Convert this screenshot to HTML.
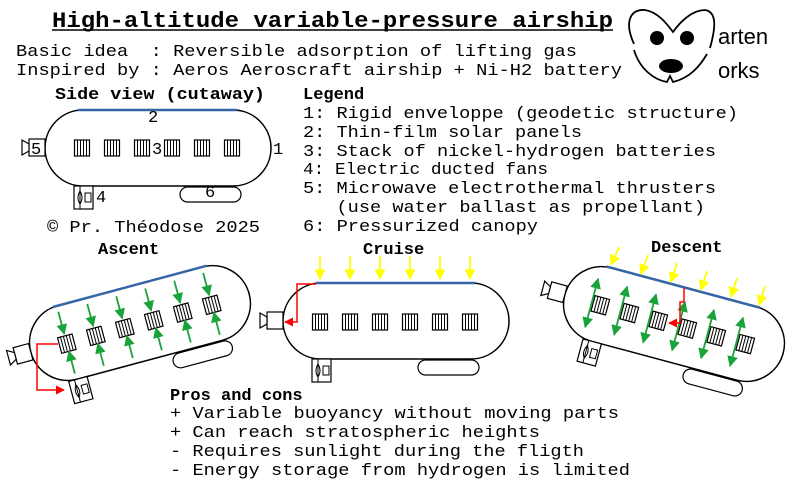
<!DOCTYPE html>
<html><head><meta charset="utf-8"><style>
html,body{margin:0;padding:0;background:#fff;}
svg{display:block;}
text{fill:#000;}
.t{font-size:17px;}
.b{font-weight:bold;font-size:17px;}
</style></head><body>
<svg width="792" height="486" viewBox="0 0 792 486" xmlns="http://www.w3.org/2000/svg" font-family="'Liberation Mono', monospace">
<defs>
<g id="bat">
 <rect x="-7.5" y="-8" width="15" height="16" fill="#fff" stroke="#000" stroke-width="1.2"/>
 <path d="M-4.5 -8V8M-1.5 -8V8M1.5 -8V8M4.5 -8V8" stroke="#000" stroke-width="1"/>
</g>
<g id="ship">
 <rect x="-113" y="-38" width="226" height="76" rx="38" fill="#fff" stroke="#000" stroke-width="1.5"/>
 <line x1="-80" y1="-38" x2="79" y2="-38" stroke="#3465a4" stroke-width="2.5"/>
 <rect x="-129" y="-9" width="16" height="17" fill="#fff" stroke="#000" stroke-width="1.2"/>
 <path d="M-129 -4 L-136 -8 L-136 7 L-129 3 Z" fill="#fff" stroke="#000" stroke-width="1.2"/>
 <rect x="-84" y="38" width="19" height="23" fill="#fff" stroke="#000" stroke-width="1.2"/>
 <line x1="-78" y1="38" x2="-78" y2="61" stroke="#000"/>
 <path d="M-78 43 Q-82 50 -78 56 Q-74 50 -78 43Z" fill="none" stroke="#000"/>
 <rect x="-73" y="45" width="6" height="9" fill="none" stroke="#000"/>
 <rect x="22" y="39" width="61" height="15" rx="7.5" fill="#fff" stroke="#000" stroke-width="1.2"/>
</g>
<g id="bats">
 <use href="#bat" x="-76" y="1"/><use href="#bat" x="-46" y="1"/><use href="#bat" x="-16" y="1"/>
 <use href="#bat" x="14" y="1"/><use href="#bat" x="44" y="1"/><use href="#bat" x="74" y="1"/>
</g>
<marker id="ga" viewBox="0 0 10 10" refX="9" refY="5" markerWidth="6" markerHeight="6" orient="auto-start-reverse"><path d="M0 0L10 5L0 10Z" fill="#1aa33a"/></marker>
<marker id="ya" viewBox="0 0 10 10" refX="9" refY="5" markerWidth="6" markerHeight="6" orient="auto"><path d="M0 0L10 5L0 10Z" fill="#ffff00"/></marker>
<marker id="ra" viewBox="0 0 10 10" refX="9" refY="5" markerWidth="6" markerHeight="6" orient="auto"><path d="M0 0L10 5L0 10Z" fill="#ff0000"/></marker>
<g id="inarr" stroke="#1aa33a" stroke-width="1.8">
 <line x1="0" y1="-32" x2="0" y2="-9" marker-end="url(#ga)"/>
 <line x1="0" y1="32" x2="0" y2="9" marker-end="url(#ga)"/>
</g>
<g id="outarr" stroke="#1aa33a" stroke-width="1.8">
 <line x1="-9" y1="-24" x2="-9" y2="26" marker-end="url(#ga)" marker-start="url(#ga)"/>
</g>
</defs>

<text x="52" y="27" font-size="22" font-weight="bold" textLength="561" lengthAdjust="spacingAndGlyphs">High-altitude variable-pressure airship</text>
<line x1="52" y1="30" x2="613" y2="30" stroke="#000" stroke-width="1.5"/>
<text class="t" x="16" y="56" textLength="561" lengthAdjust="spacingAndGlyphs" xml:space="preserve">Basic idea  : Reversible adsorption of lifting gas</text>
<text class="t" x="16" y="75" textLength="606" lengthAdjust="spacingAndGlyphs">Inspired by : Aeros Aeroscraft airship + Ni-H2 battery</text>

<path d="M634 44 C624 22 630 9 645 10 C658 12 667 24 673 32 C680 22 692 10 705 10 C718 12 715 30 710 48" fill="none" stroke="#000" stroke-width="1.8"/>
<path d="M634 50 C640 70 655 80 667 82 L670 76 L673 82 C690 78 700 66 707 54" fill="none" stroke="#000" stroke-width="1.8"/>
<ellipse cx="657" cy="38" rx="7" ry="7" fill="#000"/>
<ellipse cx="687" cy="38" rx="7" ry="7" fill="#000"/>
<ellipse cx="671" cy="66" rx="12" ry="7" fill="#000"/>
<text x="718" y="44" font-size="22" font-family="'Liberation Sans', sans-serif">arten</text>
<text x="718" y="78" font-size="22" font-family="'Liberation Sans', sans-serif">orks</text>

<text class="b" x="55" y="99" textLength="210" lengthAdjust="spacingAndGlyphs">Side view (cutaway)</text>
<g transform="translate(158,148)">
 <use href="#ship"/>
 <use href="#bat" x="-76" y="0"/><use href="#bat" x="-46" y="0"/><use href="#bat" x="-16" y="0"/>
 <use href="#bat" x="14" y="0"/><use href="#bat" x="44" y="0"/><use href="#bat" x="74" y="0"/>
</g>
<text class="t" x="148" y="122">2</text>
<text class="t" x="152" y="154">3</text>
<text class="t" x="31" y="154">5</text>
<text class="t" x="273" y="154">1</text>
<text class="t" x="96" y="202">4</text>
<text class="t" x="205" y="197">6</text>
<text class="t" x="47" y="232" textLength="213" lengthAdjust="spacingAndGlyphs">© Pr. Théodose 2025</text>

<text class="b" x="303" y="99">Legend</text>
<text class="t" x="303" y="118" textLength="435" lengthAdjust="spacingAndGlyphs">1: Rigid enveloppe (geodetic structure)</text>
<text class="t" x="303" y="137" textLength="279" lengthAdjust="spacingAndGlyphs">2: Thin-film solar panels</text>
<text class="t" x="303" y="156" textLength="413" lengthAdjust="spacingAndGlyphs">3: Stack of nickel-hydrogen batteries</text>
<text class="t" x="303" y="174" textLength="245" lengthAdjust="spacingAndGlyphs">4: Electric ducted fans</text>
<text class="t" x="303" y="193" textLength="413" lengthAdjust="spacingAndGlyphs">5: Microwave electrothermal thrusters</text>
<text class="t" x="303" y="212" textLength="402" lengthAdjust="spacingAndGlyphs" xml:space="preserve">   (use water ballast as propellant)</text>
<text class="t" x="303" y="231" textLength="235" lengthAdjust="spacingAndGlyphs">6: Pressurized canopy</text>

<text class="b" x="98" y="254">Ascent</text>
<g transform="translate(140,323) rotate(-15)">
 <use href="#ship"/>
 <use href="#bats"/>
 <use href="#inarr" x="-76"/><use href="#inarr" x="-46"/><use href="#inarr" x="-16"/>
 <use href="#inarr" x="14"/><use href="#inarr" x="44"/><use href="#inarr" x="74"/>
</g>
<polyline points="58,344 37,344 37,390 64,390" fill="none" stroke="#ff0000" stroke-width="1.5" marker-end="url(#ra)"/>

<text class="b" x="363" y="254">Cruise</text>
<g transform="translate(396,321)">
 <use href="#ship"/>
 <use href="#bats"/>
</g>
<g stroke="#ffff00" stroke-width="1.8">
 <line x1="320" y1="256" x2="320" y2="279" marker-end="url(#ya)"/>
 <line x1="350" y1="256" x2="350" y2="279" marker-end="url(#ya)"/>
 <line x1="380" y1="256" x2="380" y2="279" marker-end="url(#ya)"/>
 <line x1="410" y1="256" x2="410" y2="279" marker-end="url(#ya)"/>
 <line x1="440" y1="256" x2="440" y2="279" marker-end="url(#ya)"/>
 <line x1="470" y1="256" x2="470" y2="279" marker-end="url(#ya)"/>
</g>
<polyline points="316,284 297,284 297,322 285,322" fill="none" stroke="#ff0000" stroke-width="1.5" marker-end="url(#ra)"/>

<text class="b" x="651" y="252">Descent</text>
<g transform="translate(674,324) rotate(15)">
 <use href="#ship"/>
 <use href="#bats"/>
 <use href="#outarr" x="-76"/><use href="#outarr" x="-46"/><use href="#outarr" x="-16"/>
 <use href="#outarr" x="14"/><use href="#outarr" x="44"/><use href="#outarr" x="74"/>
</g>
<g stroke="#ffff00" stroke-width="1.8">
 <line x1="619" y1="247" x2="611" y2="265" marker-end="url(#ya)"/>
 <line x1="648" y1="255" x2="641" y2="274" marker-end="url(#ya)"/>
 <line x1="677" y1="263" x2="671" y2="282" marker-end="url(#ya)"/>
 <line x1="707" y1="271" x2="701" y2="290" marker-end="url(#ya)"/>
 <line x1="737" y1="278" x2="731" y2="297" marker-end="url(#ya)"/>
 <line x1="765" y1="286" x2="759" y2="305" marker-end="url(#ya)"/>
</g>
<polyline points="684,288 684,302 680,302 680,323 669,323" fill="none" stroke="#ff0000" stroke-width="1.5" marker-end="url(#ra)"/>

<text class="b" x="170" y="400">Pros and cons</text>
<text class="t" x="170" y="418" textLength="449" lengthAdjust="spacingAndGlyphs">+ Variable buoyancy without moving parts</text>
<text class="t" x="170" y="437" textLength="370" lengthAdjust="spacingAndGlyphs">+ Can reach stratospheric heights</text>
<text class="t" x="170" y="456" textLength="414" lengthAdjust="spacingAndGlyphs">- Requires sunlight during the fligth</text>
<text class="t" x="170" y="475" textLength="460" lengthAdjust="spacingAndGlyphs">- Energy storage from hydrogen is limited</text>
</svg>
</body></html>
